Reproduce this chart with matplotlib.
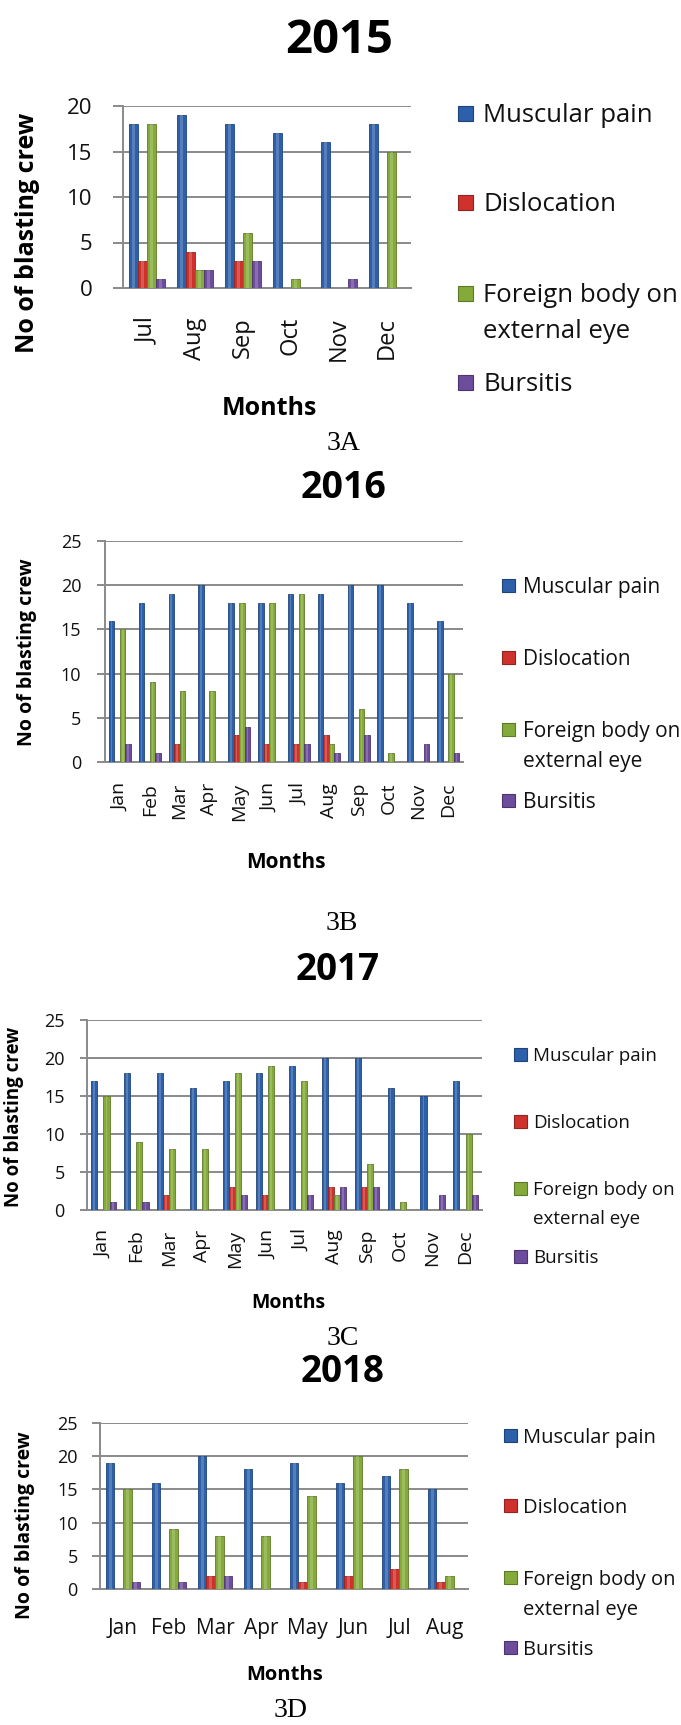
import matplotlib.pyplot as plt
import numpy as np
from matplotlib.patches import Rectangle
from matplotlib.colors import to_rgb

W, H = 681, 1725

series = ["Muscular pain", "Dislocation", "Foreign body on external eye", "Bursitis"]
colors = ["#2C60AA", "#CF322C", "#84AB3A", "#6C4C9C"]

months_2015 = ["Jul", "Aug", "Sep", "Oct", "Nov", "Dec"]
muscular_2015 = [18, 19, 18, 17, 16, 18]
dislocation_2015 = [3, 4, 3, 0, 0, 0]
foreign_2015 = [18, 2, 6, 1, 0, 15]
bursitis_2015 = [1, 2, 3, 0, 1, 0]

months_full = ["Jan", "Feb", "Mar", "Apr", "May", "Jun",
               "Jul", "Aug", "Sep", "Oct", "Nov", "Dec"]
muscular_2016 = [16, 18, 19, 20, 18, 18, 19, 19, 20, 20, 18, 16]
dislocation_2016 = [0, 0, 2, 0, 3, 2, 2, 3, 0, 0, 0, 0]
foreign_2016 = [15, 9, 8, 8, 18, 18, 19, 2, 6, 1, 0, 10]
bursitis_2016 = [2, 1, 0, 0, 4, 0, 2, 1, 3, 0, 2, 1]

muscular_2017 = [17, 18, 18, 16, 17, 18, 19, 20, 20, 16, 15, 17]
dislocation_2017 = [0, 0, 2, 0, 3, 2, 0, 3, 3, 0, 0, 0]
foreign_2017 = [15, 9, 8, 8, 18, 19, 17, 2, 6, 1, 0, 10]
bursitis_2017 = [1, 1, 0, 0, 2, 0, 2, 3, 3, 0, 2, 2]

months_2018 = ["Jan", "Feb", "Mar", "Apr", "May", "Jun", "Jul", "Aug"]
muscular_2018 = [19, 16, 20, 18, 19, 16, 17, 15]
dislocation_2018 = [0, 0, 2, 0, 1, 2, 3, 1]
foreign_2018 = [15, 9, 8, 8, 14, 20, 18, 2]
bursitis_2018 = [1, 1, 2, 0, 0, 0, 0, 0]

FONT = "Open Sans"
SERIF = "Liberation Serif"
GRID = "#8a8a8a"

fig = plt.figure(figsize=(W / 100, H / 100), dpi=100)


def fx(px):
    return px / W


def fy(py):
    return 1 - py / H


def shade(c, k):
    r, g, b = to_rgb(c)
    return (r * k, g * k, b * k)


def draw_panel(months, data, box, ymax, fs, pads, rot, title, sub, ylab, mlab, legend):
    left, right, y0, ytop = box
    ax = fig.add_axes([fx(left), fy(y0), (right - left) / W, (y0 - ytop) / H])
    n = len(months)
    x = np.arange(n)
    bw = 0.185
    for i, vals in enumerate(data):
        xs = x + (i - 1.5) * bw
        ax.bar(xs, vals, bw, color=colors[i], edgecolor=shade(colors[i], 0.72),
               linewidth=0.6, zorder=3)
        # lighter strip to hint at the rounded excel bars
        ax.bar(xs, vals, bw * 0.3, color="white", alpha=0.2, linewidth=0, zorder=4)
    ax.set_xlim(-0.5, n - 0.5)
    ax.set_ylim(0, ymax)
    ax.set_yticks(range(0, ymax + 1, 5))
    ax.grid(axis="y", color=GRID, linewidth=1.4, zorder=0)
    ax.set_axisbelow(True)
    for s in ["top", "right"]:
        ax.spines[s].set_visible(False)
    for s in ["left", "bottom"]:
        ax.spines[s].set_color(GRID)
        ax.spines[s].set_linewidth(1.4)
    ax.set_xticks(x)
    ax.set_xticklabels(months, rotation=rot, fontsize=fs["xt"], family=FONT, color="#111111")
    ax.tick_params(axis="x", length=0, pad=pads["x"])
    ax.tick_params(axis="y", length=pads["tl"], width=1.4, color=GRID, pad=pads["y"],
                   labelsize=fs["yt"], labelcolor="#111111")
    for lb in ax.get_yticklabels():
        lb.set_family(FONT)

    fig.text(fx(title[0]), fy(title[1]), title[2], ha="center", va="baseline",
             fontsize=fs["title"], fontweight="bold", family=FONT)
    fig.text(fx(sub[0]), fy(sub[1]), sub[2], ha="center", va="baseline",
             fontsize=20, family=SERIF)
    fig.text(fx(ylab[0]), fy(ylab[1]), "No of blasting crew", rotation=90,
             ha="center", va="center", fontsize=fs["ylab"], fontweight="bold", family=FONT)
    fig.text(fx(mlab[0]), fy(mlab[1]), "Months", ha="center", va="baseline",
             fontsize=fs["mlab"], fontweight="bold", family=FONT)

    mx, tx, msz, cap, bases = legend
    lines = [["Muscular pain"], ["Dislocation"], ["Foreign body on", "external eye"], ["Bursitis"]]
    for i, base in enumerate(bases):
        yc = base[0] - cap / 2
        fig.add_artist(Rectangle((fx(mx), fy(yc + msz / 2)), msz / W, msz / H,
                                 transform=fig.transFigure, facecolor=colors[i],
                                 edgecolor=shade(colors[i], 0.7), linewidth=0.8))
        for txt, b in zip(lines[i], base):
            fig.text(fx(tx), fy(b), txt, ha="left", va="baseline",
                     fontsize=fs["leg"], family=FONT, color="#111111")


draw_panel(months_2015,
           [muscular_2015, dislocation_2015, foreign_2015, bursitis_2015],
           (123, 411, 288, 106), 20,
           dict(xt=17, yt=16, title=34, ylab=18, mlab=18, leg=18.5),
           dict(x=21, y=15, tl=7),
           90, (339, 53, "2015"), (343, 450, "3A"), (27, 233), (269, 415),
           (458, 483, 15, 17, [[122], [211], [302, 338], [391]]))

draw_panel(months_full,
           [muscular_2016, dislocation_2016, foreign_2016, bursitis_2016],
           (105, 463, 762, 541), 25,
           dict(xt=14, yt=13, title=27, ylab=14, mlab=15, leg=15),
           dict(x=15, y=11, tl=6),
           90, (344, 498, "2016"), (342, 930, "3B"), (27, 652), (286, 868),
           (502, 523, 13, 15, [[593], [665], [737, 767], [808]]))

draw_panel(months_full,
           [muscular_2017, dislocation_2017, foreign_2017, bursitis_2017],
           (87, 482, 1210, 1020), 25,
           dict(xt=14, yt=13, title=26.5, ylab=13.5, mlab=14, leg=13.5),
           dict(x=14, y=11, tl=5),
           90, (338, 980, "2017"), (343, 1345, "3C"), (14, 1117), (288, 1308),
           (514, 533, 13, 14, [[1061], [1128], [1195, 1224], [1263]]))

draw_panel(months_2018,
           [muscular_2018, dislocation_2018, foreign_2018, bursitis_2018],
           (100, 468, 1589, 1423), 25,
           dict(xt=15, yt=13, title=26.5, ylab=14, mlab=14.5, leg=14.5),
           dict(x=21, y=10, tl=6),
           0, (343, 1382, "2018"), (291, 1717, "3D"), (25, 1525), (285, 1680),
           (504, 523, 13, 15, [[1443], [1513], [1585, 1615], [1655]]))

fig.savefig("out.png", dpi=100)
